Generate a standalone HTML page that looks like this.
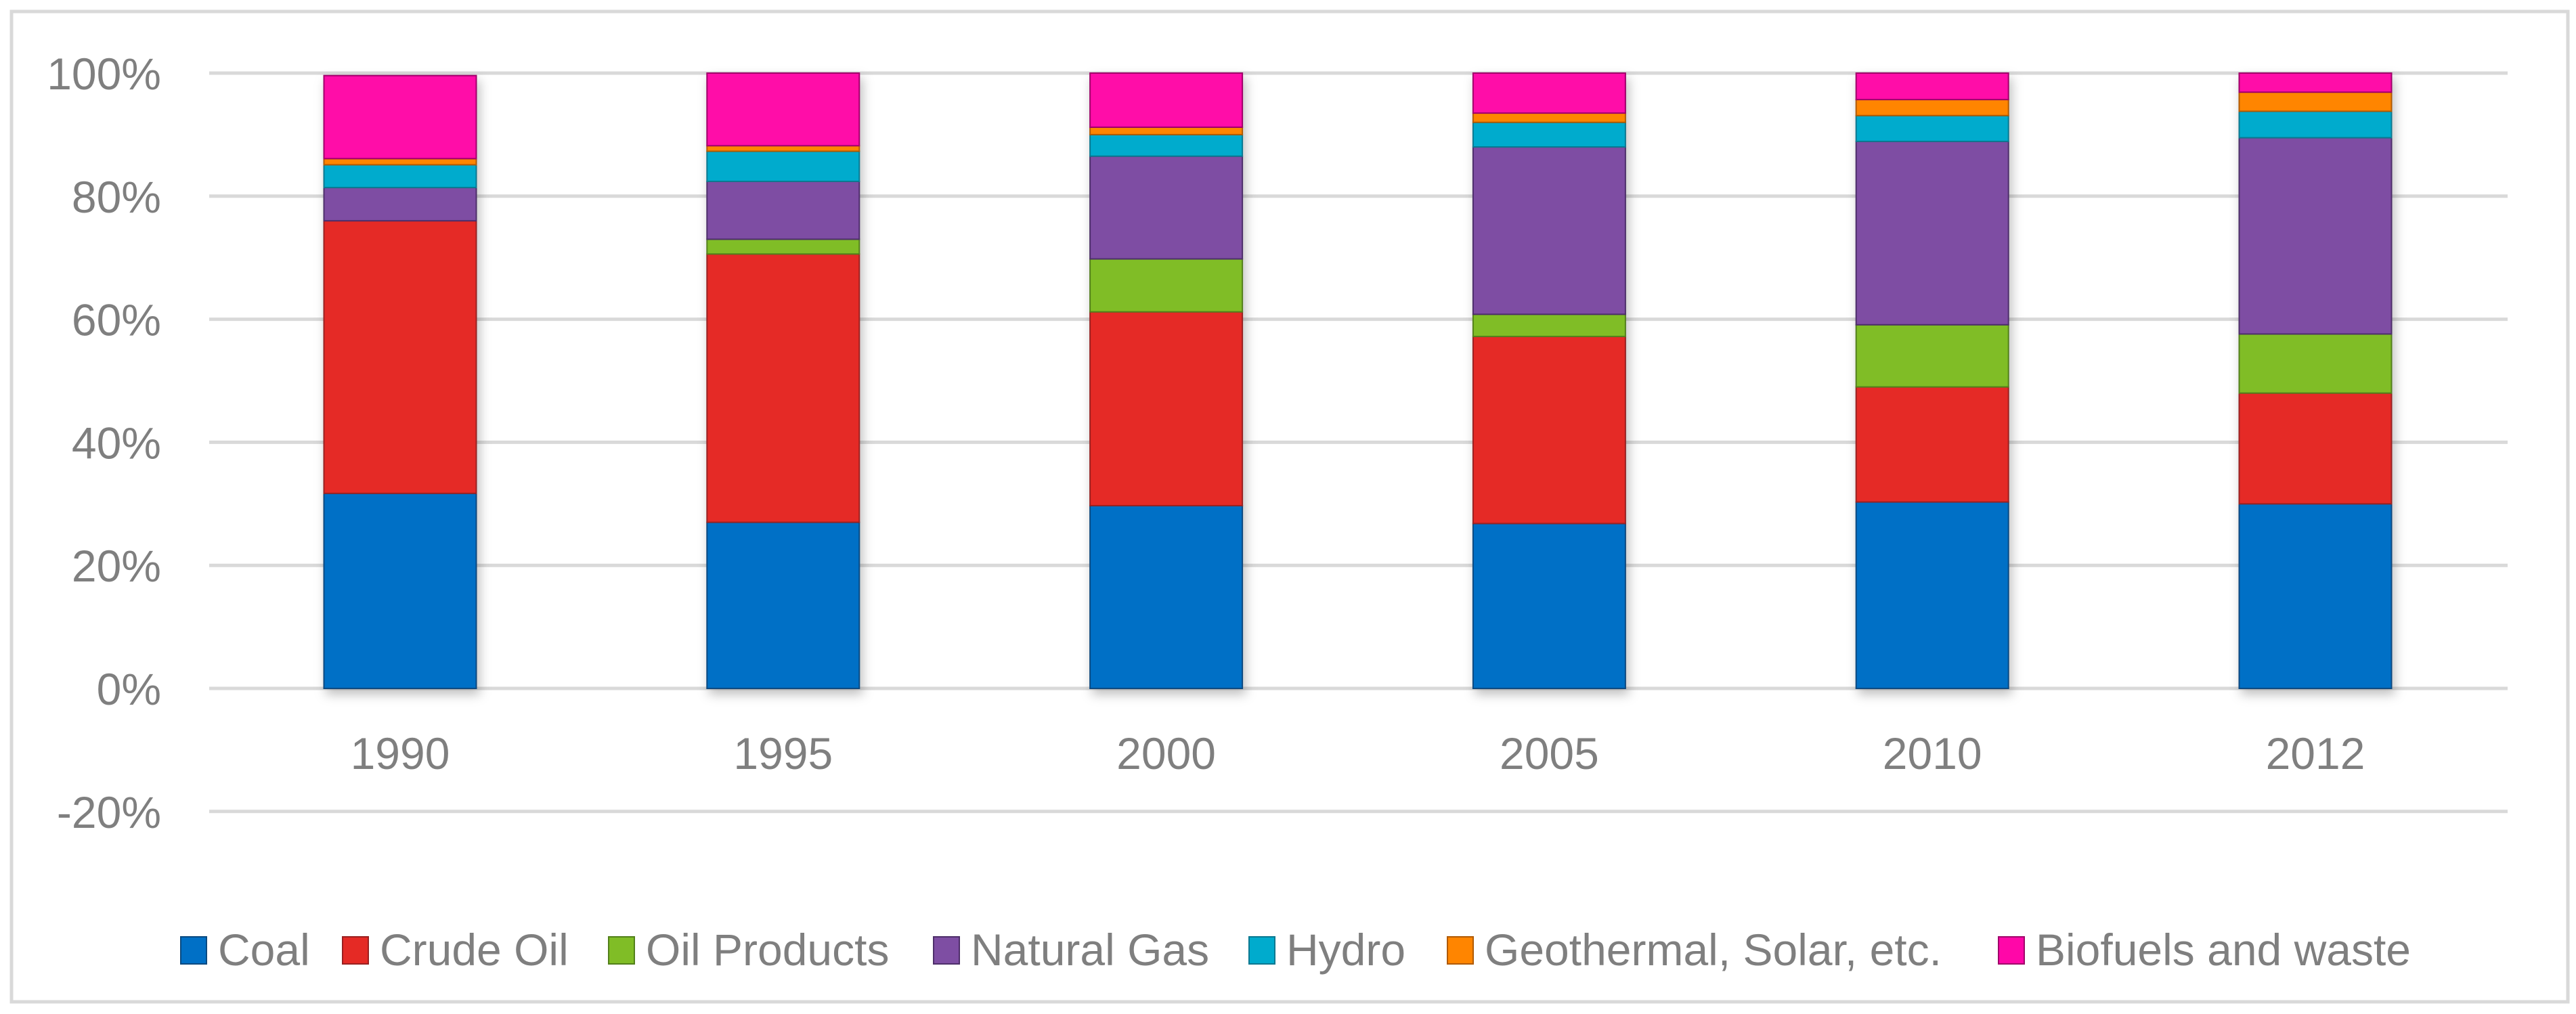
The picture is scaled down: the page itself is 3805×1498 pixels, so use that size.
<!DOCTYPE html>
<html><head><meta charset="utf-8"><style>
html,body{margin:0;padding:0;background:#fff;}
svg{display:block;font-family:"Liberation Sans",sans-serif;}
</style></head><body>
<svg id="chart" width="3805" height="1498" viewBox="0 0 3805 1498" xmlns="http://www.w3.org/2000/svg">
<defs><filter id="sh" x="-10%" y="-10%" width="130%" height="130%"><feDropShadow dx="4" dy="8" stdDeviation="8" flood-color="#000" flood-opacity="0.25"/></filter></defs>
<rect x="17" y="17" width="3776" height="1463" fill="#fff" stroke="#d9d9d9" stroke-width="5"/>
<g id="grid"></g><g id="bars"></g><g id="labels"></g><g id="legend"></g>
</svg>
<script>
const categories=["1990","1995","2000","2005","2010","2012"];
const seriesNames=["Coal","Crude Oil","Oil Products","Natural Gas","Hydro","Geothermal, Solar, etc.","Biofuels and waste"];
const coal=[31.7,27.0,29.7,26.8,30.3,30.0];
const crudeOil=[44.3,43.6,31.5,30.4,18.7,18.0];
const oilProducts=[0,2.4,8.6,3.6,10.1,9.6];
const naturalGas=[5.4,9.4,16.7,27.2,29.8,31.9];
const hydro=[3.7,4.9,3.5,4.0,4.2,4.3];
const geothermal=[1.0,0.9,1.2,1.5,2.6,3.1];
const biofuels=[13.5,11.8,8.8,6.5,4.3,3.1];
const yTicks=[-20,0,20,40,60,80,100];
const series=[coal,crudeOil,oilProducts,naturalGas,hydro,geothermal,biofuels];
const colors=["#0070c6","#e52a25","#80bd26","#7e4ea3","#00abcd","#ff8500","#ff07a8"];
const strokes=["#0a4a80","#992020","#52801a","#4e2f6a","#087890","#b05a00","#a0066a"];
const NS="http://www.w3.org/2000/svg";
const y=v=>1017-v*9.09;
const xc=i=>591+i*565.8;
const bw=225;
function mk(t,a,p){const e=document.createElementNS(NS,t);for(const k in a)e.setAttribute(k,a[k]);p.appendChild(e);return e;}
const grid=document.getElementById('grid'),bars=document.getElementById('bars'),labels=document.getElementById('labels'),legend=document.getElementById('legend');
yTicks.forEach(v=>{
 const l=mk('line',{x1:309,x2:3704,y1:y(v),y2:y(v),stroke:'#d9d9d9','stroke-width':5},grid);
 
 
 const t=mk('text',{x:238,y:y(v)+24,'text-anchor':'end','font-size':66,fill:'#7f7f7f'},labels);
 t.textContent=v+'%';
 
 
});
categories.forEach((c,i)=>{
 let acc=0;
 const g=mk('g',{filter:'url(#sh)'},bars);
 
 
 series.forEach((s,k)=>{
  const v=s[i];
  if(v>0){
   const r=mk('rect',{x:xc(i)-bw/2,y:y(acc+v),width:bw,height:v*9.09,fill:colors[k],stroke:strokes[k],'stroke-width':2},g);
   
   
  }
  acc+=v;
 });
 const t=mk('text',{x:xc(i),y:1136,'text-anchor':'middle','font-size':66,fill:'#7f7f7f'},labels);
 t.textContent=c;
 
 
});
const legX=[267,506,899,1379,1845,2138,2952];
seriesNames.forEach((n,k)=>{
 const g=mk('g',{},legend);
 
 
 mk('rect',{x:legX[k],y:1384,width:38,height:40,fill:colors[k],stroke:strokes[k],'stroke-width':2},g);
 const t=mk('text',{x:legX[k]+55,y:1426,'font-size':66,fill:'#7f7f7f'},g);
 t.textContent=n;
});
</script>
</body></html>
